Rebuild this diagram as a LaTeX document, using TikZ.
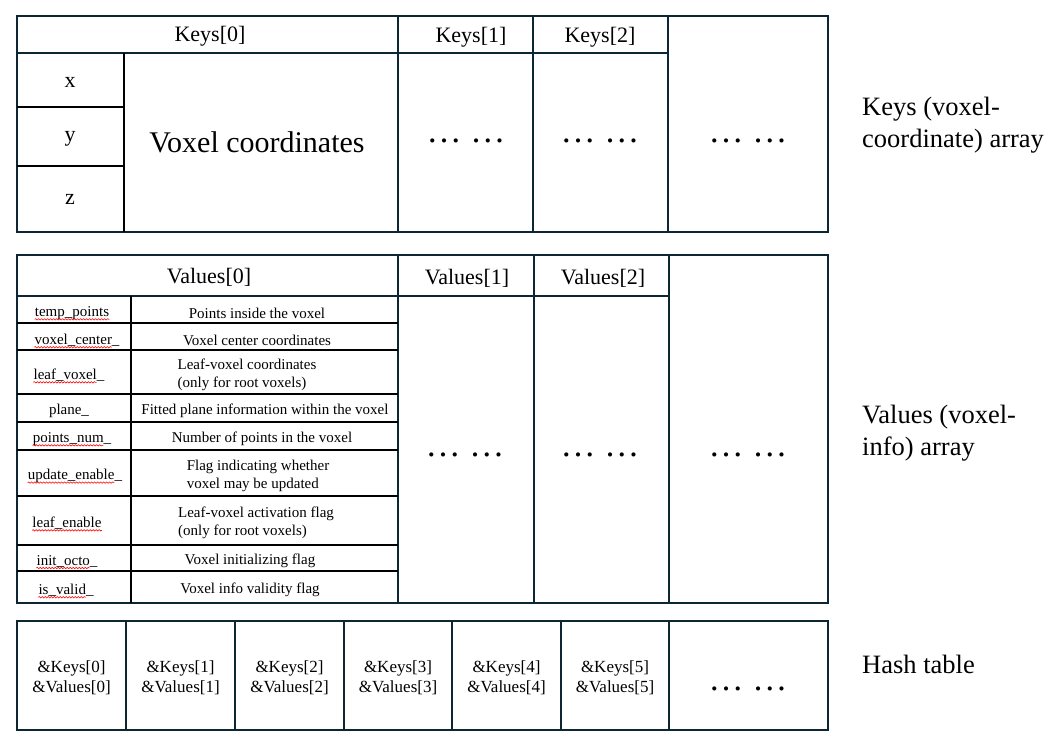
\documentclass[tikz,border=0pt]{standalone}
\usepackage{fontspec}
\setmainfont{Liberation Serif}
\usetikzlibrary{positioning,decorations.pathmorphing}
\definecolor{navy}{RGB}{12,38,52}
\tikzset{
	frame/.style={draw=navy, line width=2pt},
	grid/.style={draw=black, line width=1.4pt},
	head/.style={font=\fontsize{22}{26}\selectfont},
	big/.style={font=\fontsize{30}{34}\selectfont},
	side/.style={font=\fontsize{26.5}{32}\selectfont, align=left, anchor=west, inner sep=0pt},
	field/.style={font=\fontsize{15}{18}\selectfont, inner sep=0pt},
	info/.style={font=\fontsize{15}{18}\selectfont, align=left},
	hash/.style={font=\fontsize{17}{20}\selectfont, align=center},
	more/.style={font=\fontsize{35}{40}\selectfont, anchor=base, inner sep=0pt},
	spell/.style={draw=red, line width=0.6pt, decorate, decoration={snake, amplitude=0.7pt, segment length=3pt}},
}

\begin{document}
\begin{tikzpicture}[x=1pt, y=-1pt]
		\useasboundingbox (0,0) rectangle (1057,747);

		\draw[frame] (17,16) rectangle (828,232);
		\draw[frame] (17,53) -- (668,53);
		\draw[frame] (398,16) -- (398,232) (533,16) -- (533,232) (668,16) -- (668,232);
		\draw[grid] (124,53) -- (124,232) (17,107) -- (124,107) (17,166) -- (124,166);

		\node[head] (k0) at (210,36) {Keys[0]};
		\node[head] (k1) at (471,37) {Keys[1]};
		\node[head] (k2) at (600,37) {Keys[2]};
		\node[head] (kx) at (70,82) {x};
		\node[head] (ky) at (70,139) {y};
		\node[head] (kz) at (70,199) {z};
		\node[big] (kc) at (257,142) {Voxel coordinates};
		\node[more] (kd1) at (466,142) {… …};
		\node[more] (kd2) at (600,142) {… …};
		\node[more] (kd3) at (748,142) {… …};

		\draw[frame] (17,255) rectangle (828,603);
		\draw[frame] (17,296) -- (669,296);
		\draw[frame] (398,255) -- (398,603) (534,255) -- (534,603) (669,255) -- (669,603);
		\draw[grid] (131,296) -- (131,603);
		\draw[grid] (17,323) -- (398,323) (17,350) -- (398,350) (17,394) -- (398,394)
		(17,422) -- (398,422) (17,450) -- (398,450) (17,496) -- (398,496)
		(17,545) -- (398,545) (17,571) -- (398,571);

		\node[head] (v0) at (209,277) {Values[0]};
		\node[head] (v1) at (467,278) {Values[1]};
		\node[head] (v2) at (603,278) {Values[2]};

		\node[field] (f1) at (72,313) {temp\_points};
		\node[field] (f2) at (77,340) {voxel\_center\_};
		\node[field] (f3) at (69,375) {leaf\_voxel\_};
		\node[field] (f4) at (69,411) {plane\_};
		\node[field] (f5) at (72,439) {points\_num\_};
		\node[field] (f6) at (75,476) {update\_enable\_};
		\node[field] (f7) at (67,523) {leaf\_enable};
		\node[field] (f8) at (67,561) {init\_octo\_};
		\node[field] (f9) at (66,590) {is\_valid\_};

		\node[info] (d1) at (257,313) {Points inside the voxel};
		\node[info] (d2) at (257,340) {Voxel center coordinates};
		\node[info] (d3) at (247,375) {Leaf-voxel coordinates\\(only for root voxels)};
		\node[info] (d4) at (265,411) {Fitted plane information within the voxel};
		\node[info] (d5) at (262,439) {Number of points in the voxel};
		\node[info] (d6) at (258,476) {Flag indicating whether\\voxel may be updated};
		\node[info] (d7) at (256,523) {Leaf-voxel activation flag\\(only for root voxels)};
		\node[info] (d8) at (250,561) {Voxel initializing flag};
		\node[info] (d9) at (250,590) {Voxel info validity flag};

		\draw[spell] ([yshift=-3pt]f1.base west) -- ([yshift=-3pt]f1.base east);
		\draw[spell] ([yshift=-3pt]f2.base west) -- ([xshift=-8pt,yshift=-3pt]f2.base east);
		\draw[spell] ([yshift=-3pt]f3.base west) -- ([xshift=-8pt,yshift=-3pt]f3.base east);
		\draw[spell] ([yshift=-3pt]f5.base west) -- ([xshift=-8pt,yshift=-3pt]f5.base east);
		\draw[spell] ([yshift=-3pt]f6.base west) -- ([xshift=-8pt,yshift=-3pt]f6.base east);
		\draw[spell] ([yshift=-3pt]f7.base west) -- ([yshift=-3pt]f7.base east);
		\draw[spell] ([yshift=-3pt]f8.base west) -- ([xshift=-8pt,yshift=-3pt]f8.base east);
		\draw[spell] ([yshift=-3pt]f9.base west) -- ([xshift=-8pt,yshift=-3pt]f9.base east);

		\node[more] (vd1) at (465,456) {… …};
		\node[more] (vd2) at (600,456) {… …};
		\node[more] (vd3) at (748,456) {… …};

		\draw[frame] (17,621) rectangle (828,730);
		\draw[frame] (126,621) -- (126,730) (235,621) -- (235,730) (344,621) -- (344,730)
		(452,621) -- (452,730) (561,621) -- (561,730) (669,621) -- (669,730);

		\node[hash] (h0) at (71.5,678) {\&Keys[0]\\\&Values[0]};
		\node[hash] (h1) at (180.5,678) {\&Keys[1]\\\&Values[1]};
		\node[hash] (h2) at (289.5,678) {\&Keys[2]\\\&Values[2]};
		\node[hash] (h3) at (398,678) {\&Keys[3]\\\&Values[3]};
		\node[hash] (h4) at (506.5,678) {\&Keys[4]\\\&Values[4]};
		\node[hash] (h5) at (615,678) {\&Keys[5]\\\&Values[5]};
		\node[more] (hd) at (748,690) {… …};

		\node[side] (lk) at (862,125) {Keys (voxel-\\coordinate) array};
		\node[side] (lv) at (862,433) {Values (voxel-\\info) array};
		\node[side] (lh) at (862,664) {Hash table};
	\end{tikzpicture}
\end{document}
